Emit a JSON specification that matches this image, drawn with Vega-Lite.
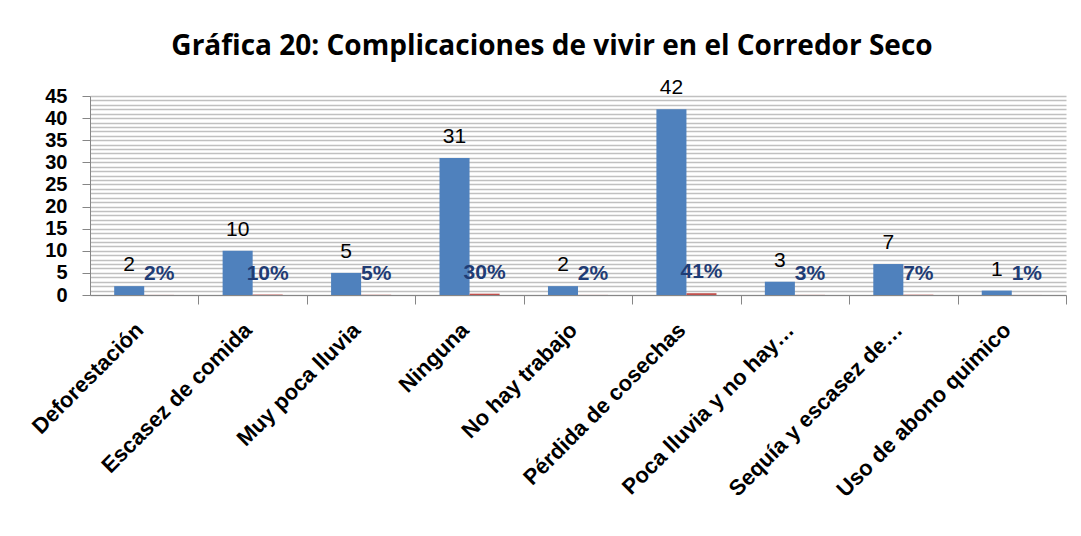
{
  "$schema": "https://vega.github.io/schema/vega-lite/v6.json",
  "width": 976,
  "height": 199,
  "autosize": "none",
  "padding": {"left": 90, "top": 96, "right": 15, "bottom": 241},
  "background": "white",
  "config": {"view": {"stroke": null}},
  "title": {
    "text": "Gráfica 20: Complicaciones de vivir en el Corredor Seco",
    "font": "Open Sans",
    "fontSize": 28,
    "fontWeight": "bold",
    "color": "#000000",
    "anchor": "middle",
    "frame": "group",
    "baseline": "alphabetic",
    "dx": -26,
    "offset": -6
  },
  "data": {
    "values": [
      {"cat": "Deforestación", "serie": "Cantidad", "valor": 2},
      {"cat": "Deforestación", "serie": "Porcentaje", "valor": 0.0194},
      {"cat": "Escasez de comida", "serie": "Cantidad", "valor": 10},
      {"cat": "Escasez de comida", "serie": "Porcentaje", "valor": 0.0971},
      {"cat": "Muy poca lluvia", "serie": "Cantidad", "valor": 5},
      {"cat": "Muy poca lluvia", "serie": "Porcentaje", "valor": 0.0485},
      {"cat": "Ninguna", "serie": "Cantidad", "valor": 31},
      {"cat": "Ninguna", "serie": "Porcentaje", "valor": 0.301},
      {"cat": "No hay trabajo", "serie": "Cantidad", "valor": 2},
      {"cat": "No hay trabajo", "serie": "Porcentaje", "valor": 0.0194},
      {"cat": "Pérdida de cosechas", "serie": "Cantidad", "valor": 42},
      {"cat": "Pérdida de cosechas", "serie": "Porcentaje", "valor": 0.4078},
      {"cat": "Poca lluvia y no hay…", "serie": "Cantidad", "valor": 3},
      {"cat": "Poca lluvia y no hay…", "serie": "Porcentaje", "valor": 0.0291},
      {"cat": "Sequía y escasez de…", "serie": "Cantidad", "valor": 7},
      {"cat": "Sequía y escasez de…", "serie": "Porcentaje", "valor": 0.068},
      {"cat": "Uso de abono quimico", "serie": "Cantidad", "valor": 1},
      {"cat": "Uso de abono quimico", "serie": "Porcentaje", "valor": 0.0097}
    ]
  },
  "encoding": {
    "x": {
      "field": "cat",
      "type": "nominal",
      "sort": null,
      "title": null,
      "scale": {"paddingInner": 0.446, "paddingOuter": 0.223},
      "axis": {
        "bandPosition": 1,
        "tickOffset": 24.2,
        "labelOffset": -24.2,
        "tickSize": 9,
        "tickColor": "#868686",
        "domainColor": "#868686",
        "labelAngle": -45,
        "labelAlign": "right",
        "labelBaseline": "alphabetic",
        "labelFont": "Liberation Sans",
        "labelFontSize": 22,
        "labelFontWeight": "bold",
        "labelColor": "#000000",
        "labelPadding": 27,
        "labelLimit": 400,
        "grid": false
      }
    },
    "xOffset": {"field": "serie", "type": "nominal", "scale": {"domain": ["Cantidad", "Porcentaje"], "paddingInner": 0, "paddingOuter": 0}},
    "y": {
      "field": "valor",
      "type": "quantitative",
      "title": null,
      "scale": {"domain": [0, 45], "nice": false},
      "axis": {
        "values": [0,1,2,3,4,5,6,7,8,9,10,11,12,13,14,15,16,17,18,19,20,21,22,23,24,25,26,27,28,29,30,31,32,33,34,35,36,37,38,39,40,41,42,43,44,45],
        "labelExpr": "datum.value % 5 === 0 ? datum.label : ''",
        "tickOpacity": {"condition": {"test": "datum.value % 5 === 0", "value": 1}, "value": 0},
        "tickSize": 8,
        "tickColor": "#868686",
        "domainColor": "#868686",
        "grid": true,
        "gridColor": "#c0c0c0",
        "gridWidth": 1.3,
        "labelFont": "Liberation Sans",
        "labelFontSize": 20,
        "labelFontWeight": "bold",
        "labelColor": "#000000",
        "labelPadding": 15,
        "labelOverlap": false
      }
    }
  },
  "layer": [
    {
      "mark": {"type": "bar"},
      "encoding": {
        "color": {"field": "serie", "type": "nominal", "scale": {"domain": ["Cantidad", "Porcentaje"], "range": ["#4F81BD", "#C0504D"]}, "legend": null}
      }
    },
    {
      "transform": [{"filter": "datum.serie === 'Cantidad'"}],
      "mark": {"type": "text", "font": "Liberation Sans", "fontSize": 21, "color": "#000000", "baseline": "alphabetic", "dy": -15},
      "encoding": {"text": {"field": "valor", "type": "quantitative"}}
    },
    {
      "transform": [{"filter": "datum.serie === 'Porcentaje'"}],
      "mark": {"type": "text", "font": "Liberation Sans", "fontSize": 21, "fontWeight": "bold", "color": "#1F3C75", "baseline": "alphabetic", "dy": -15},
      "encoding": {"text": {"field": "valor", "type": "quantitative", "format": ".0%"}}
    }
  ]
}
